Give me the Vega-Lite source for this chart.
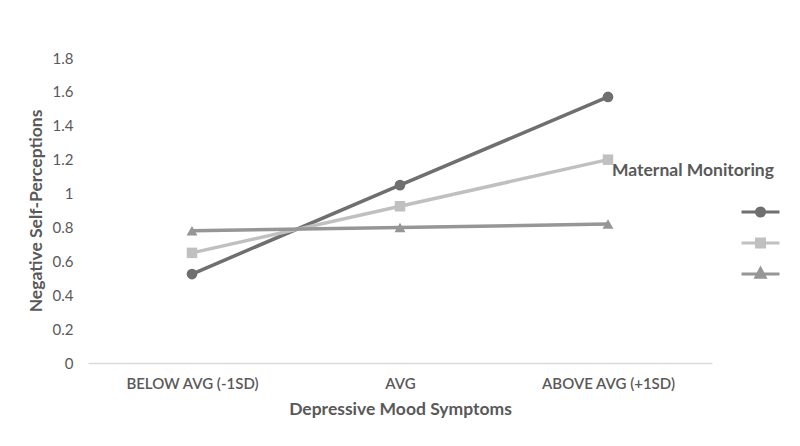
{
  "$schema": "https://vega.github.io/schema/vega-lite/v6.json",
  "autosize": "none",
  "width": 624,
  "height": 305,
  "padding": {"left": 88, "top": 58, "right": 88, "bottom": 83},
  "background": "white",
  "config": {
    "font": "Lato",
    "view": {"stroke": null},
    "axis": {"labelColor": "#595959", "titleColor": "#595959", "labelFont": "Lato", "titleFont": "Lato"}
  },
  "data": {
    "values": [
      {"mood": "BELOW AVG (-1SD)", "monitoring": "Low (-1SD)", "value": 0.525},
      {"mood": "AVG", "monitoring": "Low (-1SD)", "value": 1.05},
      {"mood": "ABOVE AVG (+1SD)", "monitoring": "Low (-1SD)", "value": 1.57},
      {"mood": "BELOW AVG (-1SD)", "monitoring": "Average", "value": 0.65},
      {"mood": "AVG", "monitoring": "Average", "value": 0.925},
      {"mood": "ABOVE AVG (+1SD)", "monitoring": "Average", "value": 1.2},
      {"mood": "BELOW AVG (-1SD)", "monitoring": "High (+1SD)", "value": 0.78},
      {"mood": "AVG", "monitoring": "High (+1SD)", "value": 0.80},
      {"mood": "ABOVE AVG (+1SD)", "monitoring": "High (+1SD)", "value": 0.82}
    ]
  },
  "encoding": {
    "x": {
      "field": "mood", "type": "nominal",
      "sort": ["BELOW AVG (-1SD)", "AVG", "ABOVE AVG (+1SD)"],
      "scale": {"paddingInner": 0, "paddingOuter": 0},
      "axis": {
        "title": "Depressive Mood Symptoms", "labelAngle": 0, "ticks": false,
        "domainColor": "#d9d9d9", "domainWidth": 1.3,
        "labelFontSize": 15, "labelPadding": 13, "labelFontWeight": 600,
        "titleFontSize": 17.5, "titleFontWeight": "bold", "titlePadding": 9
      }
    },
    "y": {
      "field": "value", "type": "quantitative",
      "scale": {"domain": [0, 1.8], "nice": false},
      "axis": {
        "title": "Negative Self-Perceptions", "values": [0, 0.2, 0.4, 0.6, 0.8, 1, 1.2, 1.4, 1.6, 1.8],
        "labelExpr": "datum.value == 1 ? '1' : datum.value == 0 ? '0' : format(datum.value, '.1f')",
        "grid": false, "domain": false, "ticks": false,
        "labelFontSize": 15, "labelPadding": 15,
        "titleFontSize": 17.5, "titleFontWeight": "bold", "titlePadding": 7
      }
    }
  },
  "layer": [
    {
      "transform": [{"filter": "false"}],
      "mark": {"type": "point", "filled": false, "strokeWidth": 3, "opacity": 1},
      "encoding": {
        "color": {
          "field": "monitoring", "type": "nominal",
          "scale": {"domain": ["Low (-1SD)", "Average", "High (+1SD)"], "range": ["#6f6f6f", "#c0c0c0", "#969696"]},
          "legend": {
            "title": "Maternal Monitoring", "orient": "none", "legendX": 524, "legendY": 104,
            "titleFontSize": 17.5, "titleFontWeight": "bold", "titleColor": "#595959", "titleFont": "Lato",
            "titlePadding": 18, "padding": 0, "rowPadding": 6,
            "labelExpr": "''", "labelFontSize": 10,
            "symbolSize": 640, "symbolOffset": 134, "symbolStrokeWidth": 3
          }
        },
        "shape": {
          "field": "monitoring", "type": "nominal",
          "scale": {
            "domain": ["Low (-1SD)", "Average", "High (+1SD)"],
            "range": [
              "M-1.5,0H1.5M-0.32,0A0.32,0.32 0 1,0 0.32,0A0.32,0.32 0 1,0 -0.32,0M-0.2,0A0.2,0.2 0 1,0 0.2,0A0.2,0.2 0 1,0 -0.2,0M-0.08,0A0.08,0.08 0 1,0 0.08,0A0.08,0.08 0 1,0 -0.08,0",
              "M-1.5,0H1.5M-0.32,-0.32H0.32V0.32H-0.32ZM-0.32,-0.16H0.32M-0.32,0.16H0.32",
              "M-1.5,0H1.5M0,-0.42L0.36,0.26H-0.36ZM0,-0.2L0.18,0.14H-0.18ZM0,-0.3V0.2"
            ]
          },
          "legend": {
            "title": "Maternal Monitoring", "orient": "none", "legendX": 524, "legendY": 104,
            "titleFontSize": 17.5, "titleFontWeight": "bold", "titleColor": "#595959", "titleFont": "Lato",
            "titlePadding": 18, "padding": 0, "rowPadding": 6,
            "labelExpr": "''", "labelFontSize": 10,
            "symbolSize": 640, "symbolOffset": 134, "symbolStrokeWidth": 3
          }
        }
      }
    },
    {
      "mark": {"type": "line", "strokeWidth": 3.5},
      "encoding": {"color": {"field": "monitoring", "type": "nominal", "legend": null}}
    },
    {
      "transform": [{"filter": "datum.monitoring == 'Low (-1SD)'"}],
      "mark": {"type": "point", "filled": true, "opacity": 1, "size": 115, "shape": "circle"},
      "encoding": {"color": {"field": "monitoring", "type": "nominal", "legend": null}}
    },
    {
      "transform": [{"filter": "datum.monitoring == 'Average'"}],
      "mark": {"type": "point", "filled": true, "opacity": 1, "size": 110, "shape": "square"},
      "encoding": {"color": {"field": "monitoring", "type": "nominal", "legend": null}}
    },
    {
      "transform": [{"filter": "datum.monitoring == 'High (+1SD)'"}],
      "mark": {"type": "point", "filled": true, "opacity": 1, "size": 120, "shape": "triangle-up"},
      "encoding": {"color": {"field": "monitoring", "type": "nominal", "legend": null}}
    }
  ]
}
